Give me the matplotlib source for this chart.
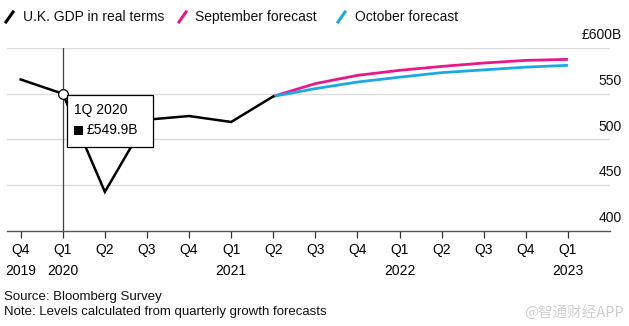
import matplotlib
matplotlib.use("Agg")
import matplotlib.pyplot as plt
from matplotlib.lines import Line2D
from matplotlib.patches import Rectangle

plt.rcParams['font.family'] = ['Liberation Sans', 'DejaVu Sans']

quarters = ["Q4", "Q1", "Q2", "Q3", "Q4", "Q1", "Q2", "Q3", "Q4", "Q1", "Q2", "Q3", "Q4", "Q1"]
years = ["2019", "2020", "", "", "", "2021", "", "", "", "2022", "", "", "", "2023"]

gdp_actual = [565.5, 549.9, 442.5, 521.5, 525.5, 519.0, 547.0]
sep_forecast = [547.0, 561.0, 570.0, 575.5, 579.8, 583.5, 586.4, 587.5]
oct_forecast = [547.0, 555.5, 562.7, 568.0, 573.0, 576.0, 579.0, 581.0]
yticks = [400, 450, 500, 550, 600]
ytick_labels = ["400", "450", "500", "550", "£600B"]

BLACK = "#000000"
PINK = "#e8178a"
BLUE = "#1ba9e6"

W, H = 629, 326
fig = plt.figure(figsize=(W / 100, H / 100), dpi=100)
ax = fig.add_axes([7 / W, 1 - 230.7 / H, (610 - 7) / W, (230.7 - 47.5) / H])

x_act = list(range(len(gdp_actual)))
x_fc = list(range(len(gdp_actual) - 1, len(gdp_actual) - 1 + len(sep_forecast)))

ax.set_xlim(-0.325, 14.0)
ax.set_ylim(400, 600.5)

for y in yticks[1:]:
    ax.axhline(y, color="#dcdcdc", lw=1.0, zorder=1)

ax.plot(x_fc, sep_forecast, color=PINK, lw=2.0, zorder=3, solid_capstyle='butt')
ax.plot(x_fc, oct_forecast, color=BLUE, lw=2.0, zorder=3, solid_capstyle='butt')
ax.plot(x_act, gdp_actual, color=BLACK, lw=1.8, zorder=4, solid_joinstyle='miter')

# hover line
ax.axvline(1, color="#444444", lw=0.9, zorder=2)
ax.plot([1], [gdp_actual[1]], marker='o', ms=7, mfc='white', mec='black', mew=0.9, zorder=6)

for s in ["top", "right", "left"]:
    ax.spines[s].set_visible(False)
ax.spines["bottom"].set_color("#555555")
ax.spines["bottom"].set_linewidth(1.0)
ax.set_yticks([])
ax.set_xticks(range(len(quarters)))
ax.set_xticklabels([q + ("\n" + yr if yr else "") for q, yr in zip(quarters, years)],
                   fontsize=10, linespacing=1.6, va='top')
ax.tick_params(axis='x', length=5, width=0.9, color="#333333", pad=4)

# y labels above gridlines, right aligned
for y, lab in zip(yticks, ytick_labels):
    ax.annotate(lab, xy=(1.0, y), xycoords=('axes fraction', 'data'),
                xytext=(8.5, 4), textcoords='offset points',
                ha='right', va='bottom', fontsize=10, color="#111111")

# tooltip
tip = Rectangle((66.7 / W, 1 - 147.3 / H), (152.7 - 66.7) / W, (147.3 - 95) / H,
                transform=fig.transFigure, facecolor='white', edgecolor='black', lw=0.9, zorder=10)
fig.patches.append(tip)
fig.text(74 / W, 1 - 110 / H, "1Q 2020", fontsize=10, va='center', ha='left', zorder=11)
fig.patches.append(Rectangle((74 / W, 1 - 135 / H), 9 / W, 9 / H, transform=fig.transFigure,
                             facecolor='black', edgecolor='none', zorder=11))
fig.text(87 / W, 1 - 130 / H, "£549.9B", fontsize=10, va='center', ha='left', zorder=11)

# legend
legend_items = [(5, 23, "U.K. GDP in real terms", BLACK),
                (178, 195, "September forecast", PINK),
                (337, 355, "October forecast", BLUE)]
for xs, xt, label, col in legend_items:
    fig.lines.append(Line2D([(xs + 1) / W, (xs + 8) / W], [1 - 22 / H, 1 - 12 / H],
                            transform=fig.transFigure, color=col, lw=2.2))
    fig.text(xt / W, 1 - 17 / H, label, fontsize=10, va='center', ha='left', color="#111111")

fig.text(4 / W, 1 - 297 / H, "Source: Bloomberg Survey", fontsize=9.5, va='center', ha='left', color="#111111")
fig.text(4 / W, 1 - 312 / H, "Note: Levels calculated from quarterly growth forecasts", fontsize=9.5,
         va='center', ha='left', color="#111111")
fig.text(624 / W, 1 - 312 / H, "@智通财经APP", fontsize=10.5, va='center', ha='right', color="#cfcfcf",
         family=['Noto Sans CJK SC', 'DejaVu Sans'])

fig.savefig("out.png", dpi=100)
